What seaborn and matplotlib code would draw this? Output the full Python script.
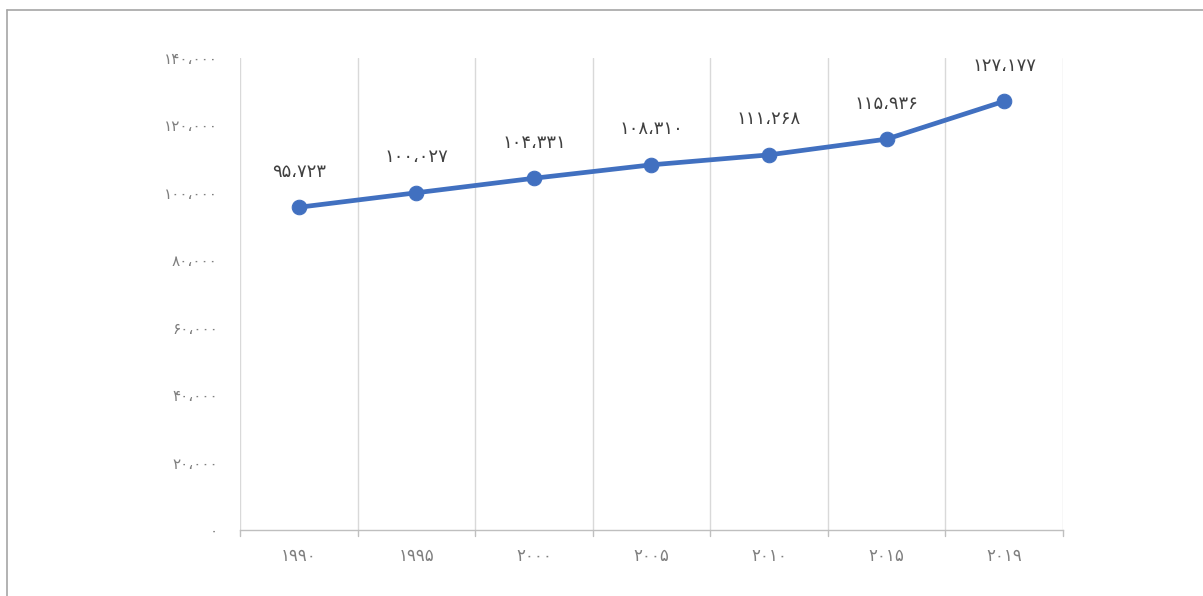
import matplotlib
matplotlib.use("Agg")
import matplotlib.pyplot as plt
from matplotlib.lines import Line2D
import seaborn as sns
import pandas as pd

years = ["۱۹۹۰", "۱۹۹۵", "۲۰۰۰", "۲۰۰۵", "۲۰۱۰", "۲۰۱۵", "۲۰۱۹"]
values = [95723, 100027, 104331, 108310, 111268, 115936, 127177]
value_labels = ["۹۵،۷۲۳", "۱۰۰،۰۲۷", "۱۰۴،۳۳۱", "۱۰۸،۳۱۰", "۱۱۱،۲۶۸", "۱۱۵،۹۳۶", "۱۲۷،۱۷۷"]
y_ticks = [0, 20000, 40000, 60000, 80000, 100000, 120000, 140000]
y_tick_labels = ["۰", "۲۰،۰۰۰", "۴۰،۰۰۰", "۶۰،۰۰۰", "۸۰،۰۰۰", "۱۰۰،۰۰۰", "۱۲۰،۰۰۰", "۱۴۰،۰۰۰"]

sns.set_theme(style="white")
plt.rcParams['font.family'] = ['DejaVu Sans']

df = pd.DataFrame({"year": years, "value": values})

fig = plt.figure(figsize=(12.03, 5.96), dpi=100)
ax = fig.add_axes([0.1995, 0.1107, 0.6841, 0.792])

line_color = "#4170C0"
sns.lineplot(data=df, x="year", y="value", ax=ax, color=line_color,
             linewidth=3.4, marker="o", markersize=10.5,
             markeredgecolor=line_color, markerfacecolor=line_color, sort=False)

ax.set_xlim(-0.5, len(years) - 0.5)
ax.set_ylim(0, 140000)
ax.set_yticks(y_ticks)
ax.set_yticklabels(y_tick_labels, color="#7f7f7f", fontsize=11)
ax.set_xticks(range(len(years)))
ax.set_xticklabels(years, color="#7f7f7f", fontsize=12)
ax.tick_params(axis="y", length=0, pad=16)
ax.tick_params(axis="x", length=0, pad=12)
ax.set_xlabel("")
ax.set_ylabel("")

# category boundary gridlines
for b in [i - 0.5 for i in range(len(years) + 1)]:
    ax.axvline(b, color="#d9d9d9", linewidth=1, zorder=0)
    ax.plot([b, b], [0, -0.012], transform=ax.get_xaxis_transform(),
            color="#bfbfbf", linewidth=1, clip_on=False)

for s in ["top", "right", "left"]:
    ax.spines[s].set_visible(False)
ax.spines["bottom"].set_color("#bfbfbf")
ax.spines["bottom"].set_linewidth(1)

for i, (v, lab) in enumerate(zip(values, value_labels)):
    ax.annotate(lab, (i, v), xytext=(0, 19), textcoords="offset points",
                ha="center", va="bottom", fontsize=13, color="#404040")

# outer frame lines (top and left)
fig.add_artist(Line2D([0.006, 1.0], [0.984, 0.984], color="#a6a6a6", linewidth=1.2,
                      transform=fig.transFigure))
fig.add_artist(Line2D([0.006, 0.006], [0.0, 0.984], color="#a6a6a6", linewidth=1.2,
                      transform=fig.transFigure))

fig.savefig("out.png", dpi=100)
